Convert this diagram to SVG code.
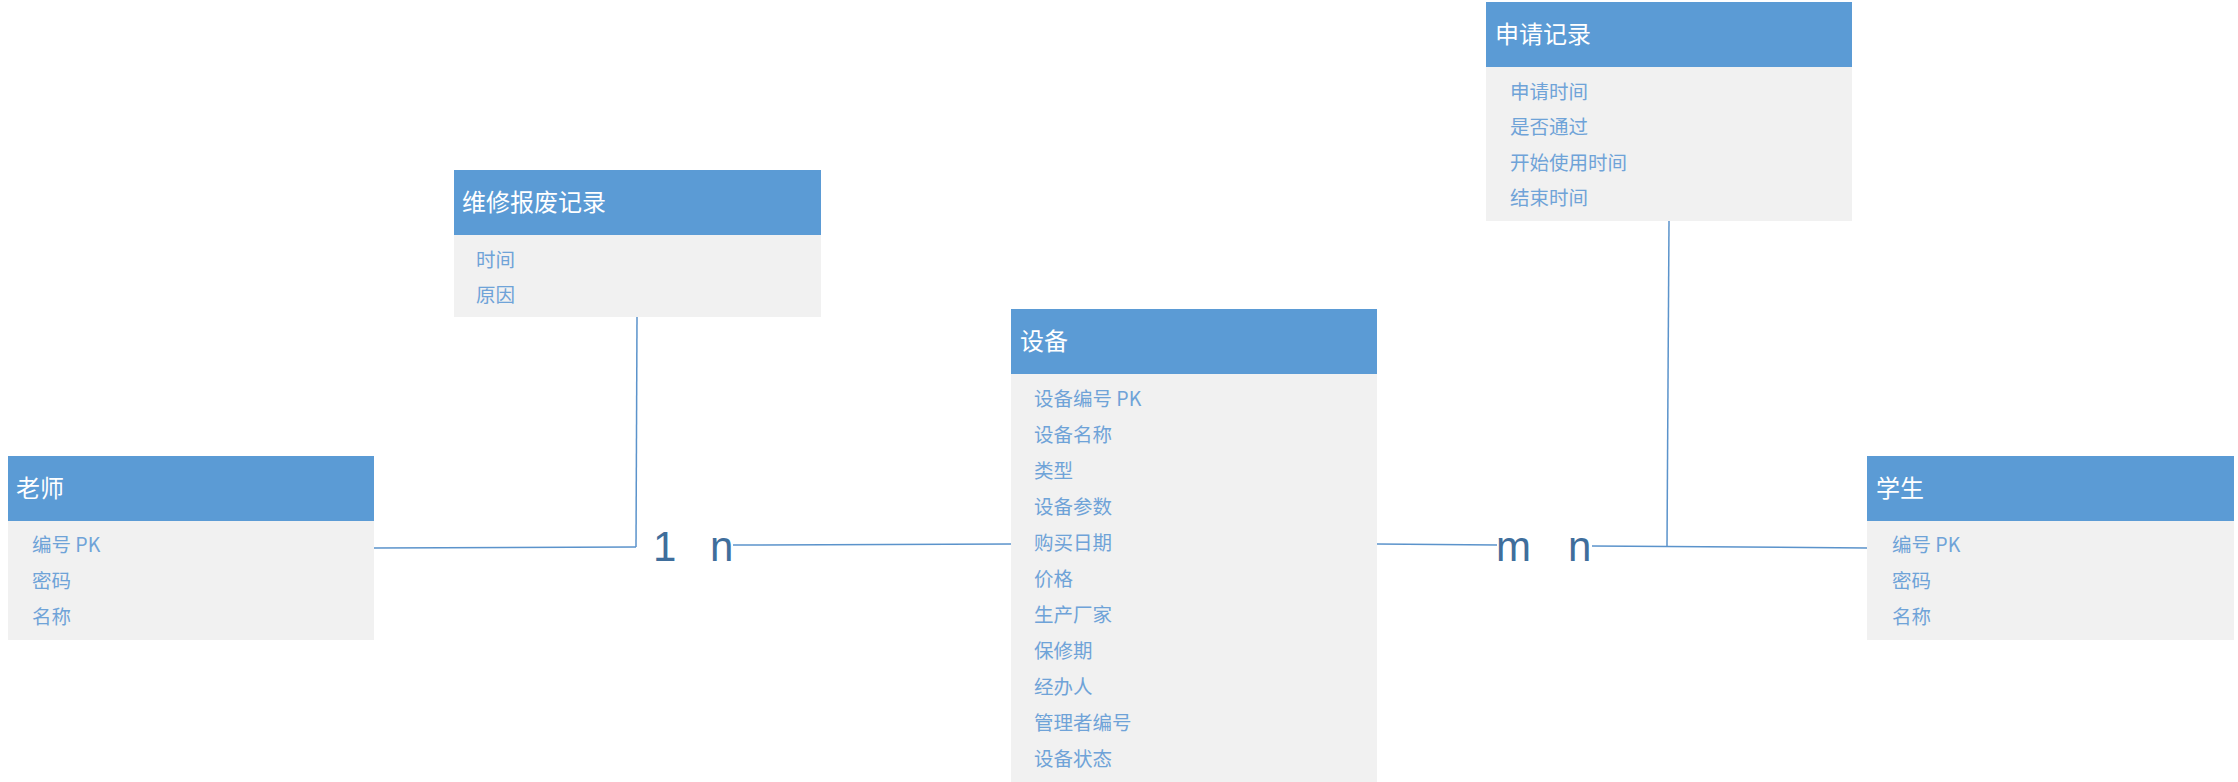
<svg xmlns="http://www.w3.org/2000/svg" width="2238" height="782" viewBox="0 0 2238 782">
<style>
.hd{fill:#5B9BD5}
.bd{fill:#F1F1F1}
.tt{font-family:"Noto Sans CJK SC","Noto Sans",sans-serif;font-size:24px;fill:#FFFFFF}
.at{font-family:"Noto Sans CJK SC","Noto Sans",sans-serif;font-size:19.5px;fill:#6FA3D8}
.ln{stroke:#5B93CB;stroke-width:1.5;fill:none}
.lb{font-family:"Liberation Sans","Noto Sans",sans-serif;font-size:42px;fill:#3F6E9C}
</style>
<rect width="2238" height="782" fill="#FFFFFF"/>
<g id="connectors">
<path class="ln" d="M374,548 L636,547"/>
<path class="ln" d="M637,317 L636,547"/>
<path class="ln" d="M733,545 L1011,544"/>
<path class="ln" d="M1377,544 L1497,545"/>
<path class="ln" d="M1592,546 L1867,548"/>
<path class="ln" d="M1669,221 L1667,546"/>
<text class="lb" x="653" y="561">1</text>
<text class="lb" x="710" y="561">n</text>
<text class="lb" x="1496" y="561">m</text>
<text class="lb" x="1568" y="561">n</text>
</g>
<g id="teacher">
<rect class="hd" x="8" y="456" width="366" height="65"/>
<rect class="bd" x="8" y="521" width="366" height="119"/>
<text class="tt" x="16" y="497">老师</text>
<text class="at" x="32" y="552">编号 PK</text>
<text class="at" x="32" y="588">密码</text>
<text class="at" x="32" y="624">名称</text>
</g>
<g id="repair">
<rect class="hd" x="454" y="170" width="367" height="65"/>
<rect class="bd" x="454" y="235" width="367" height="82"/>
<text class="tt" x="462" y="211">维修报废记录</text>
<text class="at" x="476" y="267">时间</text>
<text class="at" x="476" y="302">原因</text>
</g>
<g id="device">
<rect class="hd" x="1011" y="309" width="366" height="65"/>
<rect class="bd" x="1011" y="374" width="366" height="408"/>
<text class="tt" x="1020" y="350">设备</text>
<text class="at" x="1034" y="406">设备编号 PK</text>
<text class="at" x="1034" y="442">设备名称</text>
<text class="at" x="1034" y="478">类型</text>
<text class="at" x="1034" y="514">设备参数</text>
<text class="at" x="1034" y="550">购买日期</text>
<text class="at" x="1034" y="586">价格</text>
<text class="at" x="1034" y="622">生产厂家</text>
<text class="at" x="1034" y="658">保修期</text>
<text class="at" x="1034" y="694">经办人</text>
<text class="at" x="1034" y="730">管理者编号</text>
<text class="at" x="1034" y="766">设备状态</text>
</g>
<g id="apply">
<rect class="hd" x="1486" y="2" width="366" height="65"/>
<rect class="bd" x="1486" y="67" width="366" height="154"/>
<text class="tt" x="1495" y="43">申请记录</text>
<text class="at" x="1510" y="99">申请时间</text>
<text class="at" x="1510" y="134">是否通过</text>
<text class="at" x="1510" y="170">开始使用时间</text>
<text class="at" x="1510" y="205">结束时间</text>
</g>
<g id="student">
<rect class="hd" x="1867" y="456" width="367" height="65"/>
<rect class="bd" x="1867" y="521" width="367" height="119"/>
<text class="tt" x="1876" y="497">学生</text>
<text class="at" x="1892" y="552">编号 PK</text>
<text class="at" x="1892" y="588">密码</text>
<text class="at" x="1892" y="624">名称</text>
</g>
</svg>
